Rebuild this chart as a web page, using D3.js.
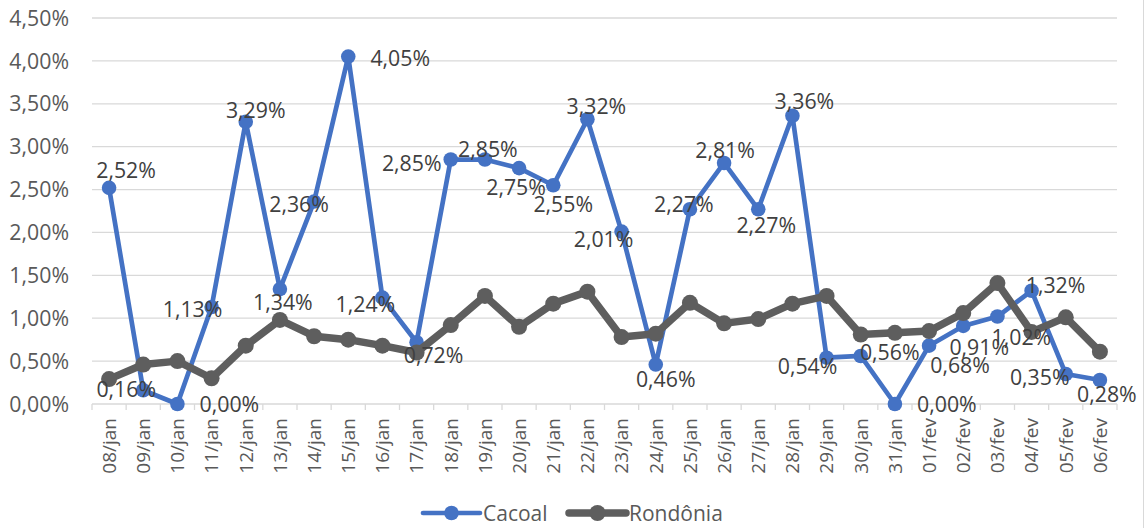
<!DOCTYPE html>
<html>
<head>
<meta charset="utf-8">
<script src="https://cdn.jsdelivr.net/npm/d3@7"></script>
<style>
  body { margin: 0; background: #fff; }
  svg { display: block; font-family: "Open Sans", "Noto Sans", sans-serif; }
</style>
</head>
<body>
<div id="chart"></div>
<script>
// categories (dias)
const days = ["08/jan", "09/jan", "10/jan", "11/jan", "12/jan", "13/jan", "14/jan", "15/jan",
  "16/jan", "17/jan", "18/jan", "19/jan", "20/jan", "21/jan", "22/jan", "23/jan", "24/jan",
  "25/jan", "26/jan", "27/jan", "28/jan", "29/jan", "30/jan", "31/jan", "01/fev", "02/fev",
  "03/fev", "04/fev", "05/fev", "06/fev"];

// series values (fractions)
const cacoal = [0.0252, 0.0016, 0.0000, 0.0113, 0.0329, 0.0134, 0.0236, 0.0405, 0.0124, 0.0072,
  0.0285, 0.0285, 0.0275, 0.0255, 0.0332, 0.0201, 0.0046, 0.0227, 0.0281, 0.0227, 0.0336,
  0.0054, 0.0056, 0.0000, 0.0068, 0.0091, 0.0102, 0.0132, 0.0035, 0.0028];
const rondonia = [0.0029, 0.0046, 0.0050, 0.0030, 0.0068, 0.0098, 0.0079, 0.0075, 0.0068, 0.0060,
  0.0092, 0.0126, 0.0090, 0.0117, 0.0131, 0.0078, 0.0082, 0.0118, 0.0094, 0.0099, 0.0117,
  0.0126, 0.0081, 0.0083, 0.0085, 0.0106, 0.0141, 0.0084, 0.0101, 0.0061];

// y tick values
const yTicks = [0, 0.005, 0.01, 0.015, 0.02, 0.025, 0.03, 0.035, 0.04, 0.045];

// where each Cacoal data label sits relative to its point (px)
const labelShift = [[17, -18], [-17, -1], [52, 0], [-19, 2], [10, -11], [3, 13], [-15, 3], [52, 2],
  [-17, 7], [17, 13], [-39, 4], [3, -10], [-3, 19], [10, 19], [9, -13], [-18, 8], [10, 15],
  [-6, -5], [1, -13], [8, 16], [12, -14], [-19, 9], [29, -4], [52, 0], [31, 20], [16, 21],
  [24, 21], [24, -5], [-26, 3], [7, 14]];

const width = 1146, height = 528;
const margin = { top: 18, right: 29, bottom: 124, left: 92 };

const ptBR = d3.formatLocale({ decimal: ",", thousands: ".", grouping: [3], currency: ["R$", ""] });
const pct = ptBR.format(".2%");

const svg = d3.select("#chart").append("svg")
  .attr("width", width)
  .attr("height", height);

const x = d3.scaleBand()
  .domain(days)
  .range([margin.left, width - margin.right]);
const y = d3.scaleLinear()
  .domain([0, 0.045])
  .range([height - margin.bottom, margin.top]);
const cx = (d) => x(d) + x.bandwidth() / 2;

// outer border (only right edge shows in the original)
svg.append("line")
  .attr("x1", 1143.5).attr("x2", 1143.5)
  .attr("y1", 0).attr("y2", height)
  .attr("stroke", "#d9d9d9").attr("stroke-width", 1);

// gridlines
svg.append("g")
  .selectAll("line")
  .data(yTicks.slice(1))
  .join("line")
  .attr("x1", margin.left).attr("x2", width - margin.right)
  .attr("y1", (d) => y(d)).attr("y2", (d) => y(d))
  .attr("stroke", "#d9d9d9").attr("stroke-width", 1.3);

// y labels
svg.append("g")
  .selectAll("text")
  .data(yTicks)
  .join("text")
  .attr("x", 69)
  .attr("y", (d) => y(d))
  .attr("dy", "0.36em")
  .attr("text-anchor", "end")
  .attr("fill", "#595959")
  .style("font-size", "21.3px")
  .text((d) => pct(d));

// x axis line + ticks between categories
const base = y(0);
svg.append("line")
  .attr("x1", margin.left).attr("x2", width - margin.right)
  .attr("y1", base).attr("y2", base)
  .attr("stroke", "#d9d9d9").attr("stroke-width", 1.3);
const bounds = days.map((d) => x(d)).concat([x(days[days.length - 1]) + x.bandwidth()]);
svg.append("g")
  .selectAll("line")
  .data(bounds)
  .join("line")
  .attr("x1", (d) => d).attr("x2", (d) => d)
  .attr("y1", base).attr("y2", base + 6)
  .attr("stroke", "#d9d9d9").attr("stroke-width", 1.3);

// x labels, rotated
svg.append("g")
  .selectAll("text")
  .data(days)
  .join("text")
  .attr("transform", (d) => `translate(${cx(d)},${base + 14}) rotate(-90)`)
  .attr("dy", "0.36em")
  .attr("text-anchor", "end")
  .attr("fill", "#595959")
  .style("font-size", "19px")
  .text((d) => d);

const blue = "#4472c4", gray = "#5e5e5e";
const line = d3.line().x((d, i) => cx(days[i])).y((d) => y(d));

// Cacoal
svg.append("path")
  .datum(cacoal)
  .attr("d", line)
  .attr("fill", "none")
  .attr("stroke", blue)
  .attr("stroke-width", 4.7)
  .attr("stroke-linejoin", "round");
svg.append("g")
  .selectAll("circle")
  .data(cacoal)
  .join("circle")
  .attr("cx", (d, i) => cx(days[i]))
  .attr("cy", (d) => y(d))
  .attr("r", 7.3)
  .attr("fill", blue);

// Rondônia
svg.append("path")
  .datum(rondonia)
  .attr("d", line)
  .attr("fill", "none")
  .attr("stroke", gray)
  .attr("stroke-width", 7.5)
  .attr("stroke-linejoin", "round");
svg.append("g")
  .selectAll("circle")
  .data(rondonia)
  .join("circle")
  .attr("cx", (d, i) => cx(days[i]))
  .attr("cy", (d) => y(d))
  .attr("r", 8)
  .attr("fill", gray);

// data labels for Cacoal
svg.append("g")
  .selectAll("text")
  .data(cacoal)
  .join("text")
  .attr("x", (d, i) => cx(days[i]) + labelShift[i][0])
  .attr("y", (d, i) => y(d) + labelShift[i][1])
  .attr("dy", "0.36em")
  .attr("text-anchor", "middle")
  .attr("fill", "#404040")
  .style("font-size", "21.3px")
  .text((d) => pct(d));

// legend
const legend = [
  { name: "Cacoal", color: blue, w: 4.7, r: 7.3, x0: 423 },
  { name: "Rondônia", color: gray, w: 7.5, r: 8, x0: 569 }
];
const lg = svg.append("g").selectAll("g").data(legend).join("g")
  .attr("transform", (d) => `translate(${d.x0},513)`);
lg.append("line")
  .attr("x1", 0).attr("x2", 57)
  .attr("stroke", (d) => d.color)
  .attr("stroke-width", (d) => d.w)
  .attr("stroke-linecap", "round");
lg.append("circle")
  .attr("cx", 28.5).attr("r", (d) => d.r)
  .attr("fill", (d) => d.color);
lg.append("text")
  .attr("x", 60)
  .attr("dy", "0.36em")
  .attr("fill", "#595959")
  .style("font-size", "21px")
  .text((d) => d.name);
</script>
</body>
</html>
